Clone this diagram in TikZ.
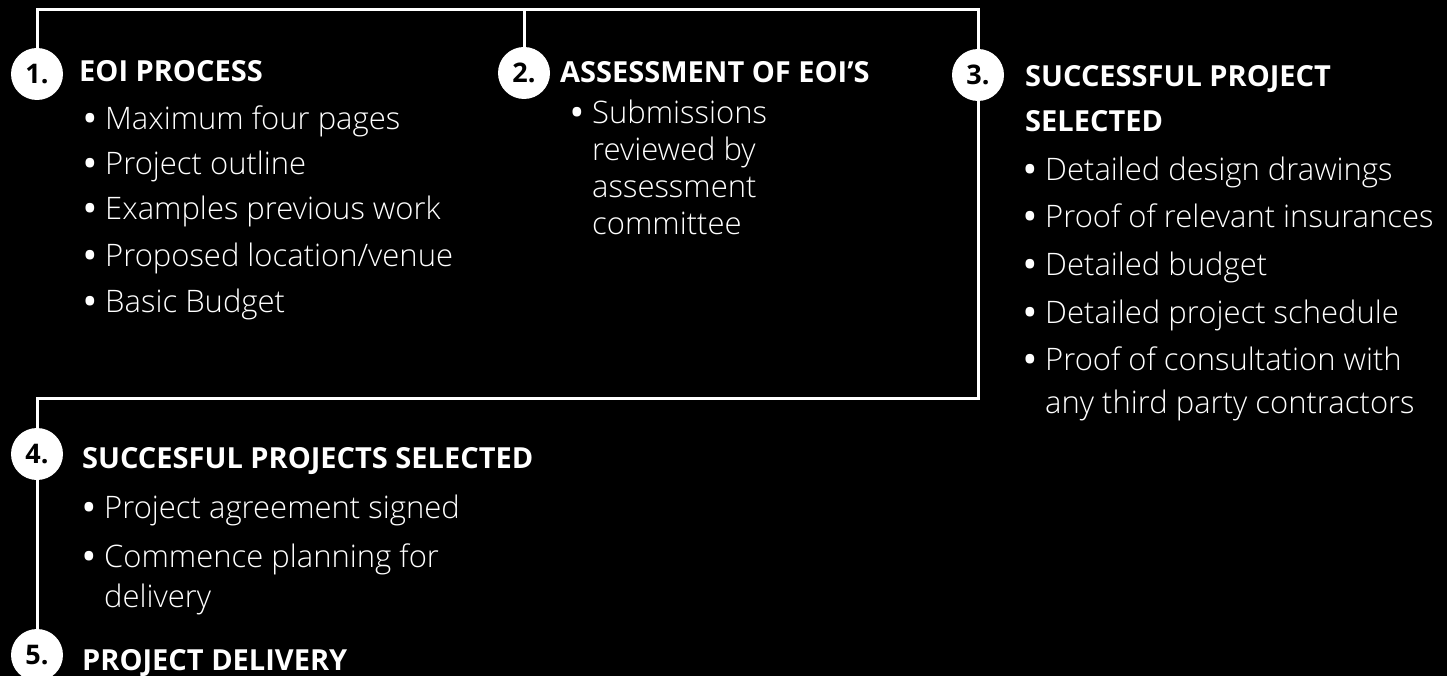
\documentclass[tikz,border=0pt]{standalone}
\usepackage{fontspec}
\setmainfont{Open Sans}[UprightFont=* Light,BoldFont=* Bold]
\usetikzlibrary{backgrounds}

\tikzset{
  num/.style={circle,fill=white,minimum size=52pt,inner sep=0pt,text=black,
    font=\fontsize{27}{27}\selectfont\bfseries},
  head/.style={anchor=base west,inner sep=0pt,text=white,align=left,
    font=\fontsize{29}{45}\selectfont\bfseries},
  bul/.style={anchor=base west,inner sep=0pt,text=white,align=left,
    font=\fontsize{31}{42}\selectfont},
  link/.style={draw=white,line width=3pt},
}
\newcommand{\dotmark}{\makebox[21pt][l]{\bfseries\textbullet}}
\newcommand{\dotskip}{\hspace*{21pt}}

\begin{document}
\begin{tikzpicture}[x=1pt,y=-1pt]
        \useasboundingbox (0,0) rectangle (1447,676);

        % step circles
        \node[num] (c1) at (37,74) {1.};
        \node[num] (c2) at (524,73) {2.};
        \node[num] (c3) at (978,75) {3.};
        \node[num] (c4) at (37,454) {4.};
        \node[num] (c5) at (37,655) {5.};

        \coordinate (top) at (0,10);
        \coordinate (turn) at (0,398);

        \begin{scope}[on background layer]
        \fill[black] (0,0) rectangle (1447,676);
        \draw[link] (c1.north) -- (c1.north |- top) -| (c3.north);
        \draw[link] (c2.north) -- (c2.north |- top);
        \draw[link] (c3.south) -- (c3.south |- turn) -| (c4.north);
        \draw[link] (c4.south) -- (c5.north);
        \end{scope}

        % step 1
        \node[head] (h1) at (79,82) {EOI PROCESS};
        \node[bul] (b11) at (84,130) {\dotmark Maximum four pages};
        \node[bul] (b12) at (84,175) {\dotmark Project outline};
        \node[bul] (b13) at (84,220) {\dotmark Examples previous work};
        \node[bul] (b14) at (84,266) {\dotmark Proposed location/venue};
        \node[bul] (b15) at (84,312) {\dotmark Basic Budget};

        % step 2 (base = last line)
        \node[head] (h2) at (560,83) {ASSESSMENT OF EOI'S};
        \node[bul,font=\fontsize{31}{37.3}\selectfont] (b21) at (571,235)
          {\dotmark Submissions\\\dotskip reviewed by\\\dotskip assessment\\\dotskip committee};

        % step 3
        \node[head] (h3) at (1025,132) {SUCCESSFUL PROJECT\\SELECTED};
        \node[bul] (b31) at (1024,181) {\dotmark Detailed design drawings};
        \node[bul] (b32) at (1024,228) {\dotmark Proof of relevant insurances};
        \node[bul] (b33) at (1024,276) {\dotmark Detailed budget};
        \node[bul] (b34) at (1024,323) {\dotmark Detailed project schedule};
        \node[bul,font=\fontsize{31}{43}\selectfont] (b35) at (1024,413)
          {\dotmark Proof of consultation with\\\dotskip any third party contractors};

        % step 4
        \node[head] (h4) at (82,468) {SUCCESFUL PROJECTS SELECTED};
        \node[bul] (b41) at (83,518) {\dotmark Project agreement signed};
        \node[bul,font=\fontsize{31}{40}\selectfont] (b42) at (83,607)
          {\dotmark Commence planning for\\\dotskip delivery};

        % step 5
        \node[head] (h5) at (82,670) {PROJECT DELIVERY};
    \end{tikzpicture}
\end{document}
